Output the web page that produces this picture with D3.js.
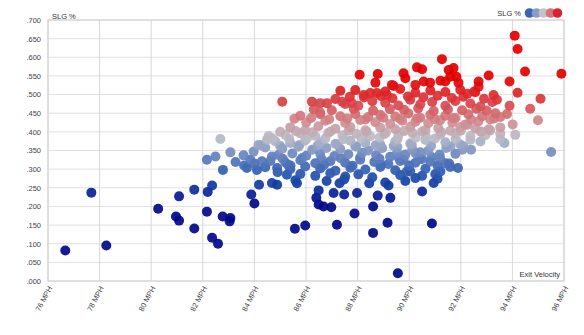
<!DOCTYPE html>
<html><head><meta charset="utf-8">
<script src="https://cdn.jsdelivr.net/npm/d3@7"></script>
<style>body{margin:0;background:#fff;font-family:"Liberation Sans",Arial,sans-serif;}</style>
</head><body><svg id="c" width="584" height="335"></svg>
<script>
const xTicks = [76,78,80,82,84,86,88,90,92,94,96];
const yTicks = [0,.05,.1,.15,.2,.25,.3,.35,.4,.45,.5,.55,.6,.65,.7];
const legendColors = ["#3a63b8","#8a9ccb","#c4c4c6","#d5747a","#d9232e"];
const exitVelo = [
76.67,77.68,78.26,80.27,80.96,81.08,81.08,81.67,81.67,82.68,82.16,82.49,82.78,83.07,83.27,82.36,82.19,82.16,82.77,83.07,83.04,82.36,82.59,83.88,84.00,84.18,84.68,84.88,83.58,83.71,83.84,84.16,83.97,84.10,84.29,84.49,84.55,84.68,84.88,85.26,85.59,86.49,86.40,86.49,86.68,86.98,87.07,87.48,87.98,87.88,87.20,85.97,85.57,88.78,89.27,88.60,89.16,88.60,89.07,89.20,89.56,87.48,90.88,90.50,90.50,89.91,90.04,91.10,91.21,91.10,91.89,91.79,91.18,90.88,90.50,90.24,89.78,89.53,92.40,
94.09,94.20,94.49,95.90,93.89,94.20,95.09,93.89,94.69,93.79,94.01,94.99,93.69,95.50,93.53,
93.08,92.69,92.69,91.27,90.30,90.50,89.78,89.85,89.33,91.53,91.72,91.59,91.83,91.21,91.40,91.91,90.56,90.81,90.24,93.27,93.40,92.52,92.26,93.08,92.76,92.24,92.37,92.11,
88.08,88.78,88.69,89.40,85.08,86.23,86.55,86.81,85.78,86.55,87.40,87.78,88.23,88.49,88.75,89.14,
87.33,87.91,89.07,89.65,90.24,90.82,91.40,91.98,92.56,
87.14,87.52,88.03,88.57,89.07,89.58,90.04,90.43,90.89,91.40,91.79,92.37,92.76,93.22,
86.55,87.33,87.91,88.41,88.88,89.46,89.97,90.43,90.82,91.40,91.79,92.29,92.83,93.34,
86.01,86.75,87.52,88.10,88.69,89.26,89.73,90.24,90.74,91.20,91.67,92.18,92.68,93.14,
85.39,85.97,86.48,87.14,87.72,88.30,88.88,89.46,90.04,90.63,91.13,91.59,91.98,92.56,93.14,93.53,
85.20,85.78,86.36,86.86,87.41,87.95,88.49,89.03,89.58,90.12,90.66,91.20,91.79,92.37,92.95,93.53,94.11,
84.81,85.39,85.97,86.55,87.14,87.72,88.30,88.88,89.46,90.04,90.63,91.40,91.98,92.76,93.53,
84.42,85.08,85.70,86.24,86.79,87.33,87.91,88.41,88.95,89.54,90.12,90.74,91.44,92.06,
84.93,85.47,86.01,86.55,87.10,87.64,88.18,88.72,89.26,89.85,90.43,
84.62,85.20,85.78,86.36,86.94,87.52,88.10,88.65,89.19,89.65,90.24,90.82,91.40,
84.42,85.39,85.97,86.55,87.14,87.72,88.30,88.88,89.46,90.63,91.59,
85.78,86.36,86.94,87.52,88.03,88.57,89.65,90.24,91.01,
83.60,84.00,84.90,85.30,85.65,86.80,87.30,88.45,89.85,90.95,91.55,
87.70,88.25,88.90,89.35,89.95,90.55,91.10,91.65,92.10,92.90,
86.30,87.00,87.85,88.60,89.25,89.80,90.35,90.95,91.50,92.05,92.60,93.00,
85.55,86.20,86.90,87.60,88.30,89.00,89.65,90.30,91.00,91.70,92.40,93.30,
85.00,85.60,86.25,86.95,87.65,88.35,89.10,89.80,90.50,91.25,92.00,92.80,
84.70,85.35,86.05,86.75,87.45,88.15,88.85,89.55,90.25,91.00,91.80,
84.25,85.00,85.75,86.45,87.20,87.95,88.70,89.40,90.10,90.85,91.60,
85.10,85.85,86.60,87.35,88.10,88.85,89.60,90.40,91.20,
85.40,86.70,87.80,88.90,90.00
];
const slg = [
.082,.237,.095,.194,.173,.162,.227,.245,.141,.381,.325,.334,.298,.345,.319,.256,.239,.186,.173,.169,.160,.116,.100,.232,.208,.258,.263,.258,.337,.303,.325,.365,.347,.298,.321,.379,.389,.334,.303,.285,.270,.243,.223,.205,.200,.198,.236,.232,.236,.181,.151,.149,.140,.229,.223,.200,.156,.129,.264,.256,.021,.272,.154,.240,.282,.294,.294,.274,.294,.309,.303,.341,.339,.332,.327,.343,.325,.343,.352,
.658,.622,.562,.556,.535,.505,.489,.470,.462,.448,.420,.431,.370,.346,.440,
.551,.535,.521,.595,.573,.568,.557,.544,.526,.566,.571,.548,.548,.537,.535,.532,.535,.532,.526,.499,.486,.508,.502,.407,.401,.419,.379,.361,
.553,.555,.532,.523,.481,.481,.477,.477,.443,.452,.481,.477,.499,.504,.504,.499,
.510,.512,.508,.515,.505,.511,.507,.513,.506,
.488,.475,.470,.482,.478,.471,.486,.474,.480,.470,.483,.476,.468,.480,
.447,.442,.448,.440,.446,.441,.449,.438,.446,.443,.437,.447,.442,.450,
.425,.430,.424,.432,.426,.421,.430,.427,.423,.431,.425,.420,.428,.433,
.412,.405,.415,.408,.413,.404,.411,.407,.414,.405,.410,.403,.413,.409,.404,.412,
.392,.396,.389,.397,.391,.395,.388,.394,.390,.398,.387,.393,.396,.389,.391,.395,.392,
.375,.370,.377,.372,.368,.376,.371,.366,.374,.369,.378,.372,.366,.374,.380,
.358,.355,.360,.352,.357,.354,.361,.350,.356,.359,.353,.349,.357,.352,
.338,.342,.336,.341,.335,.340,.344,.337,.333,.339,.345,
.322,.318,.324,.316,.321,.317,.325,.319,.314,.322,.317,.320,.316,
.305,.300,.307,.302,.296,.304,.299,.306,.297,.301,.306,
.287,.282,.289,.280,.286,.278,.284,.276,.287,
.310,.315,.292,.312,.262,.268,.262,.262,.268,.263,.315,
.494,.492,.496,.490,.495,.493,.497,.491,.494,.489,
.460,.458,.462,.457,.461,.459,.463,.456,.460,.458,.462,.457,
.435,.437,.434,.436,.433,.438,.435,.436,.434,.437,.433,.436,
.400,.402,.399,.401,.403,.400,.398,.402,.401,.399,.403,.400,
.383,.381,.384,.382,.380,.383,.385,.381,.384,.382,.380,
.364,.362,.365,.363,.366,.361,.364,.362,.365,.363,.361,
.328,.330,.327,.329,.331,.328,.330,.327,.329,
.310,.311,.309,.312,.310
];

const W=584,H=335, m={l:48,r:20,t:20,b:54};
const svg=d3.select("#c");
const x=d3.scaleLinear().domain([76,96]).range([m.l,W-m.r]);
const y=d3.scaleLinear().domain([0,.7]).range([H-m.b,m.t]);
const color=d3.scaleLinear()
  .domain([.21,.27,.30,.34,.385,.43,.475,.54])
  .range(["#00088a","#1545a8","#3560b2","#6a86c0","#bbbec8","#d0878b","#d8454b","#e30000"])
  .clamp(true);

svg.append("g").selectAll("line").data(yTicks).join("line")
  .attr("x1",m.l).attr("x2",W-m.r).attr("y1",d=>y(d)).attr("y2",d=>y(d))
  .attr("stroke","#e0e0e0").attr("stroke-width",1);
svg.append("g").selectAll("line").data(xTicks).join("line")
  .attr("y1",m.t).attr("y2",H-m.b).attr("x1",d=>x(d)).attr("x2",d=>x(d))
  .attr("stroke","#d8d8d8").attr("stroke-width",1);
svg.append("rect").attr("x",m.l).attr("y",m.t).attr("width",W-m.l-m.r).attr("height",H-m.t-m.b)
  .attr("fill","none").attr("stroke","#d0d0d0");

const ya=svg.append("g").attr("transform",`translate(${m.l},0)`)
  .call(d3.axisLeft(y).tickValues(yTicks).tickSize(0).tickPadding(7).tickFormat(d=>d3.format(".3f")(d).replace(/^0/,"")));
ya.select(".domain").remove();
ya.selectAll("text").attr("font-size",7.5).attr("fill","#444").attr("font-family","Liberation Sans, Arial, sans-serif");
const xa=svg.append("g").attr("transform",`translate(0,${H-m.b})`)
  .call(d3.axisBottom(x).tickValues(xTicks).tickSize(0).tickFormat(d=>d+" MPH"));
xa.select(".domain").remove();
xa.selectAll("text").attr("font-size",7.5).attr("fill","#444").attr("font-family","Liberation Sans, Arial, sans-serif")
  .attr("text-anchor","end").attr("dy",0).attr("y",0)
  .attr("transform","translate(4,7) rotate(-62)");

const pts=exitVelo.map((v,i)=>({v,s:slg[i]})).sort((a,b)=>a.s-b.s);
svg.append("g").selectAll("circle").data(pts).join("circle")
  .attr("cx",d=>x(d.v)).attr("cy",d=>y(d.s)).attr("r",5)
  .attr("fill",d=>color(d.s)).attr("fill-opacity",0.92);

svg.append("text").attr("x",52).attr("y",19).attr("font-size",7.5).attr("fill","#333").text("SLG %");
svg.append("text").attr("x",W-m.r-4).attr("y",H-m.b-4).attr("text-anchor","end").attr("font-size",7.5).attr("fill","#333").text("Exit Velocity");
svg.append("text").attr("x",521).attr("y",16).attr("text-anchor","end").attr("font-size",7.5).attr("fill","#333").text("SLG %");
svg.append("g").selectAll("circle").data(legendColors).join("circle")
  .attr("cx",(d,i)=>529.5+i*7).attr("cy",13).attr("r",4.8).attr("fill",d=>d);
</script></body></html>
